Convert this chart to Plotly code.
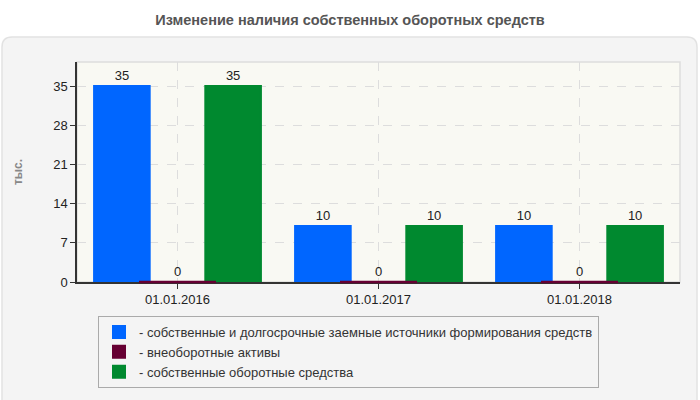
import plotly.graph_objects as go

# data
dates = ["01.01.2016", "01.01.2017", "01.01.2018"]
own_and_long_term = [35, 10, 10]
non_current_assets = [0, 0, 0]
own_working_capital = [35, 10, 10]

series_names = [
    "- собственные и долгосрочные заемные источники формирования средств",
    "- внеоборотные активы",
    "- собственные оборотные средства",
]
series_colors = ["#0066ff", "#660033", "#00892f"]
y_ticks = [0, 7, 14, 21, 28, 35]

fig = go.Figure()
for name, vals, color in zip(series_names,
                             [own_and_long_term, non_current_assets, own_working_capital],
                             series_colors):
    fig.add_trace(go.Bar(
        x=dates, y=vals, name=name,
        marker=dict(color=color, line=dict(color=color, width=2)),
        text=vals, textposition="outside", cliponaxis=False,
        textfont=dict(size=13, color="#222"),
    ))

# plotly skips zero-height bars; the middle (centred) bar is drawn as a flat
# line at its value so the 0 bars still show like in the original
fig.add_trace(go.Scatter(
    x=dates, y=non_current_assets, mode="markers", showlegend=False,
    hoverinfo="skip", cliponaxis=False,
    marker=dict(symbol="line-ew", size=55,
                line=dict(color=series_colors[1], width=2.5)),
))

# plot area size in px, used to place things in paper coords
L, T, W, H = 77, 62, 603, 220


def px_x(p):
    return (p - L) / W


def px_y(p):
    return 1 - (p - T) / H


# rounded grey panel behind the chart
x0, x1, y0, y1, r = 2, 697, 37, 402, 10
path = (f"M {px_x(x0 + r)},{px_y(y0)} L {px_x(x1 - r)},{px_y(y0)} "
        f"Q {px_x(x1)},{px_y(y0)} {px_x(x1)},{px_y(y0 + r)} "
        f"L {px_x(x1)},{px_y(y1)} L {px_x(x0)},{px_y(y1)} "
        f"L {px_x(x0)},{px_y(y0 + r)} "
        f"Q {px_x(x0)},{px_y(y0)} {px_x(x0 + r)},{px_y(y0)} Z")

fig.update_layout(
    width=700, height=400,
    margin=dict(l=L, r=700 - L - W, t=T, b=400 - T - H),
    paper_bgcolor="white",
    plot_bgcolor="#f9f9f3",
    barmode="group", bargap=0.17, bargroupgap=0,
    font=dict(family="Arial, Liberation Sans, sans-serif", size=13, color="#222"),
    title=dict(text="<b>Изменение наличия собственных оборотных средств</b>",
               x=0.5, xanchor="center", xref="container", y=0.95, yanchor="middle",
               font=dict(size=14.5, color="#555")),
    shapes=[
        dict(type="path", path=path, xref="paper", yref="paper",
             fillcolor="#f4f4f4", line=dict(color="#e2e2e2", width=1.5), layer="below"),
        dict(type="rect", xref="paper", yref="paper", x0=0, x1=1, y0=0, y1=1,
             fillcolor="#f9f9f3", line=dict(color="#dddddd", width=1.5), layer="below"),
    ],
    legend=dict(
        x=px_x(98), y=px_y(316), xanchor="left", yanchor="top",
        bgcolor="#f4f4f4", bordercolor="#aaaaaa", borderwidth=1,
        font=dict(size=13, color="#333"), itemclick=False, itemwidth=30,
        tracegroupgap=0,
    ),
    showlegend=True,
)

fig.update_xaxes(
    showline=True, linecolor="#333", linewidth=1.5, layer="below traces",
    ticks="outside", ticklen=5, tickcolor="#333",
    showgrid=True, gridcolor="#dddddd", griddash="dash",
    tickfont=dict(size=13, color="#222"),
)
fig.update_yaxes(
    range=[0, 39.3], tickvals=y_ticks,
    showline=True, linecolor="#333", linewidth=1.5, layer="below traces",
    ticks="outside", ticklen=5, tickcolor="#333",
    showgrid=True, gridcolor="#dddddd", griddash="dash",
    zeroline=False,
    tickfont=dict(size=13, color="#222"),
    title=dict(text="<b>тыс.</b>", font=dict(size=12, color="#888"), standoff=28),
)

# drop the default page margin so the figure sits at the window origin
fig.write_html("out.html", config={"displayModeBar": False},
               post_script="document.body.style.margin='0';")
